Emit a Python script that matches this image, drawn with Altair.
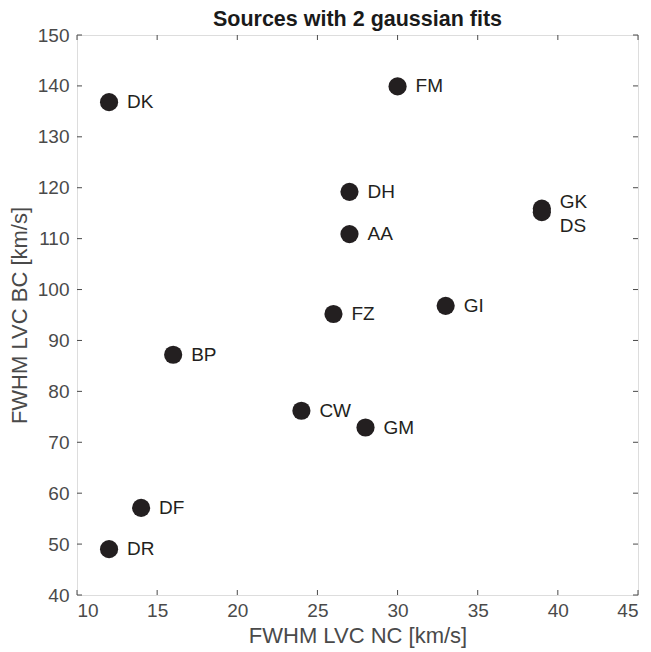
import altair as alt
import pandas as pd

names = ["DK", "FM", "DH", "AA", "GK", "DS", "GI", "FZ", "BP", "CW", "GM", "DF", "DR"]
nc = [12, 30, 27, 27, 39, 39, 33, 26, 16, 24, 28, 14, 12]
bc = [136.8, 139.9, 119.2, 110.9, 115.9, 115.2, 96.8, 95.2, 87.2, 76.2, 72.9, 57.1, 49.0]
label_pos = ["mid", "mid", "mid", "mid", "above", "below", "mid", "mid", "mid", "mid", "mid", "mid", "mid"]

x_ticks = [10, 15, 20, 25, 30, 35, 40, 45]
y_ticks = [40, 50, 60, 70, 80, 90, 100, 110, 120, 130, 140, 150]

df = pd.DataFrame({"name": names, "nc": nc, "bc": bc, "pos": label_pos})
xt = pd.DataFrame({"v": x_ticks})
yt = pd.DataFrame({"v": y_ticks})

W, H = 561, 560
FONT = "Liberation Sans"
AXC = "#4a4a4a"
INK = "#231f20"

xs = alt.Scale(domain=[10, 45], nice=False, zero=False)
ys = alt.Scale(domain=[40, 150], nice=False, zero=False)

xaxis = alt.Axis(values=x_ticks, grid=False, tickSize=0, domain=False,
                 labelFont=FONT, labelFontSize=19, labelColor=AXC, labelPadding=6,
                 title="FWHM LVC NC [km/s]", titleFont=FONT, titleFontSize=22,
                 titleFontWeight="normal", titleColor=AXC, titlePadding=5)
yaxis = alt.Axis(values=y_ticks, grid=False, tickSize=0, domain=False,
                 labelFont=FONT, labelFontSize=19, labelColor=AXC, labelPadding=8,
                 title="FWHM LVC BC [km/s]", titleFont=FONT, titleFontSize=22,
                 titleFontWeight="normal", titleColor=AXC, titlePadding=6)

points = alt.Chart(df).mark_circle(size=330, opacity=1, color=INK).encode(
    x=alt.X("nc:Q", scale=xs, axis=xaxis),
    y=alt.Y("bc:Q", scale=ys, axis=yaxis),
)

def labels(pos, dy):
    return alt.Chart(df).transform_filter(alt.datum.pos == pos).mark_text(
        align="left", baseline="middle", dx=18, dy=dy, font=FONT, fontSize=19, color=INK
    ).encode(x=alt.X("nc:Q", scale=xs), y=alt.Y("bc:Q", scale=ys), text="name:N")

lab_mid = labels("mid", 0)
lab_above = labels("above", -7)
lab_below = labels("below", 14)

tick_len = 5
xt_bottom = alt.Chart(xt).mark_rule(color=AXC, strokeWidth=1).encode(
    x=alt.X("v:Q", scale=xs), y=alt.value(H), y2=alt.value(H - tick_len))
xt_top = alt.Chart(xt).mark_rule(color=AXC, strokeWidth=1).encode(
    x=alt.X("v:Q", scale=xs), y=alt.value(0), y2=alt.value(tick_len))
yt_left = alt.Chart(yt).mark_rule(color=AXC, strokeWidth=1).encode(
    y=alt.Y("v:Q", scale=ys), x=alt.value(0), x2=alt.value(tick_len))
yt_right = alt.Chart(yt).mark_rule(color=AXC, strokeWidth=1).encode(
    y=alt.Y("v:Q", scale=ys), x=alt.value(W - tick_len), x2=alt.value(W))

chart = alt.layer(
    xt_bottom, xt_top, yt_left, yt_right, points, lab_mid, lab_above, lab_below
).properties(
    width=W, height=H,
    title=alt.TitleParams("Sources with 2 gaussian fits", font=FONT, fontSize=21.5,
                          fontWeight="bold", color="#1a1a1a", anchor="middle",
                          frame="group", offset=10, dy=14),
    autosize=alt.AutoSizeParams(type="none"),
    padding={"left": 69, "top": 27, "right": 5, "bottom": 57},
).configure_view(
    stroke=AXC, strokeWidth=1.3
).configure(background="white")

chart.save("out.html", embed_options={"renderer": "svg", "actions": False})
